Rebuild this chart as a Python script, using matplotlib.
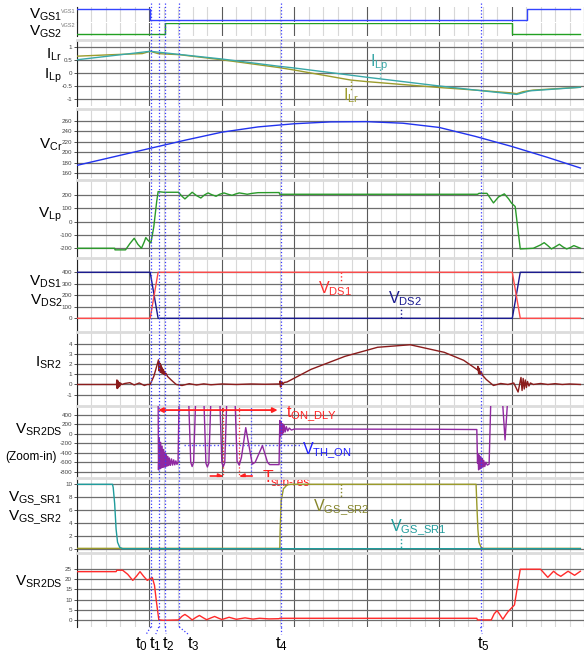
import numpy as np
import matplotlib.pyplot as plt

plt.rcParams['font.family'] = ['Liberation Sans', 'DejaVu Sans']
plt.rcParams['mathtext.fontset'] = 'custom'
plt.rcParams['mathtext.rm'] = 'Liberation Sans'
plt.rcParams['mathtext.it'] = 'Liberation Sans:italic'
plt.rcParams['mathtext.bf'] = 'Liberation Sans:bold'
plt.rcParams['axes.unicode_minus'] = False

# ---- data (time in grid divisions, values in panel units) ----
t_marks = [1.01, 1.12, 1.21, 1.40, 2.80, 5.53]
t_names = ['t$_0$', 't$_1$', 't$_2$', 't$_3$', 't$_4$', 't$_5$']

vgs1 = [(0, 1), (1.01, 1), (1.01, 0), (6.21, 0), (6.21, 1), (6.95, 1)]
vgs2 = [(0, 0), (1.21, 0), (1.21, 1), (6.01, 1), (6.01, 0), (6.95, 0)]

ilp = [(0, 0.52), (1.01, 0.85), (2.0, 0.55), (2.78, 0.27), (3.0, 0.2), (4.0, -0.16),
       (5.0, -0.5), (5.5, -0.66), (6.07, -0.83), (6.25, -0.69), (6.95, -0.55)]
ilr = [(0, 0.66), (0.5, 0.72), (0.9, 0.76), (1.01, 0.85), (1.12, 0.76), (1.25, 0.74),
       (1.41, 0.72), (2.0, 0.52), (2.78, 0.22), (3.0, 0.12), (3.78, -0.27), (4.0, -0.33),
       (5.0, -0.56), (5.5, -0.66), (6.0, -0.77), (6.07, -0.8), (6.16, -0.72), (6.3, -0.66),
       (6.95, -0.55)]

vcr = [(0, 175), (0.5, 191), (1.0, 207), (1.5, 223), (2.0, 238), (2.5, 248), (3.0, 254),
       (3.5, 257.5), (4.0, 258), (4.5, 255), (5.0, 247), (5.5, 230), (6.0, 211),
       (6.5, 190), (6.95, 170)]

vlp = [(0, -200), (0.52, -200), (0.525, -212), (0.67, -212), (0.73, -165), (0.79, -125),
       (0.84, -170), (0.89, -200), (0.93, -150), (0.95, -120), (0.98, -140), (1.0, -150),
       (1.02, -160), (1.06, -40), (1.10, 150), (1.12, 225), (1.2, 220), (1.4, 220),
       (1.45, 190), (1.49, 170), (1.54, 195), (1.59, 220), (1.65, 195), (1.71, 177),
       (1.76, 200), (1.81, 215), (1.86, 202), (1.92, 190), (1.97, 205), (2.03, 215),
       (2.08, 206), (2.14, 197), (2.19, 207), (2.24, 215), (2.3, 210), (2.35, 205),
       (2.42, 212), (2.5, 217), (2.79, 218), (2.80, 205), (5.53, 205), (5.55, 212),
       (5.66, 212), (5.75, 140), (5.82, 185), (5.90, 208), (5.96, 170), (6.0, 138),
       (6.05, 113), (6.12, -205), (6.3, -200), (6.4, -175), (6.45, -158), (6.5, -180),
       (6.55, -205), (6.6, -190), (6.66, -170), (6.71, -190), (6.76, -205), (6.81, -195),
       (6.86, -180), (6.95, -200)]

vds1 = [(0, 0), (1.01, 0), (1.12, 400), (6.01, 400), (6.12, 0), (6.95, 0)]
vds2 = [(0, 400), (1.01, 400), (1.12, 0), (6.01, 0), (6.12, 400), (6.95, 400)]

isr2 = [(0, 0), (0.545, 0), (0.55, 0.45), (0.555, -0.4), (0.56, 0.4), (0.565, -0.35),
        (0.57, 0.3), (0.575, -0.25), (0.58, 0.2), (0.59, -0.15), (0.60, 0.15), (0.62, 0.0),
        (0.66, 0.1), (0.73, 0.18), (0.79, -0.05), (0.86, 0.15), (0.93, -0.1), (0.97, 0.0),
        (1.01, 0.0), (1.06, 0.8), (1.10, 1.8), (1.125, 2.45), (1.13, 1.4), (1.135, 2.25),
        (1.14, 1.3), (1.145, 2.1), (1.15, 1.25), (1.155, 1.95), (1.16, 1.2), (1.165, 1.8),
        (1.17, 1.15), (1.175, 1.65), (1.18, 1.1), (1.19, 1.5), (1.20, 1.0), (1.21, 1.3),
        (1.22, 0.9), (1.23, 1.1), (1.25, 0.8), (1.30, 0.45), (1.37, 0.0), (1.45, -0.1),
        (1.55, 0.08), (1.65, -0.05), (1.75, 0.06), (1.85, -0.03), (2.0, 0.05), (2.2, 0.0),
        (2.4, 0.05), (2.6, 0.02), (2.79, 0.05), (2.80, 0.0), (2.805, 0.35), (2.81, -0.25),
        (2.815, 0.3), (2.82, -0.15), (2.83, 0.25), (2.84, 0.0), (2.86, 0.2), (2.9, 0.25),
        (3.23, 1.5), (3.70, 2.8), (4.15, 3.7), (4.60, 3.95), (5.07, 3.2), (5.34, 2.4),
        (5.53, 1.45), (5.535, 1.8), (5.545, 1.1), (5.555, 1.6), (5.565, 1.0), (5.58, 1.3),
        (5.6, 0.9), (5.65, 0.5), (5.75, -0.1), (5.85, 0.1), (5.95, 0.0), (6.03, 0.15),
        (6.09, -0.75), (6.13, 0.7), (6.145, -0.6), (6.16, 0.6), (6.175, -0.45), (6.19, 0.45),
        (6.205, -0.3), (6.22, 0.3), (6.24, -0.15), (6.26, 0.15), (6.3, 0.0), (6.4, 0.1),
        (6.5, 0.0), (6.6, 0.08), (6.7, 0.0), (6.8, 0.05), (6.95, 0.0)]

vsr_zoom = [(0, 800), (1.12, 800), (1.125, -760), (1.135, -80), (1.145, -740), (1.155, -180),
            (1.165, -720), (1.175, -260), (1.185, -710), (1.195, -330), (1.205, -700),
            (1.215, -390), (1.225, -690), (1.235, -440), (1.245, -680), (1.255, -480),
            (1.265, -670), (1.275, -510), (1.29, -665), (1.305, -530), (1.32, -660),
            (1.335, -550), (1.35, -655), (1.365, -570), (1.38, -645), (1.395, -600),
            (1.41, 800), (1.54, 800), (1.57, -600), (1.59, -690), (1.61, -600), (1.64, 800),
            (1.75, 800), (1.78, -620), (1.80, -700), (1.82, -620), (1.85, 800), (1.97, 800),
            (2.0, -610), (2.02, -690), (2.04, -610), (2.07, 800), (2.18, 800), (2.21, -580),
            (2.24, -660), (2.27, -500), (2.33, 130), (2.38, -300), (2.42, -640), (2.46, -600),
            (2.56, -250), (2.63, -600), (2.66, -650), (2.79, -650), (2.80, 280), (2.81, -60),
            (2.82, 240), (2.83, -20), (2.84, 210), (2.85, 20), (2.86, 180), (2.875, 40),
            (2.89, 150), (2.91, 60), (2.93, 120), (2.96, 80), (3.0, 100), (5.0, 95),
            (5.52, 90), (5.53, -620), (5.535, -420), (5.545, -760), (5.555, -450),
            (5.565, -740), (5.575, -480), (5.585, -720), (5.595, -520), (5.605, -700),
            (5.615, -560), (5.63, -690), (5.645, -600), (5.665, -660), (5.69, -640),
            (5.715, 800), (5.87, 800), (5.91, -130), (5.95, 800), (6.95, 800)]
vth_on = -232
t_on_dly = (1.12, 2.77)
t_sub_res = (2.02, 2.24)

vgs_sr1 = [(0, 10), (0.49, 10), (0.5, 9.5), (0.52, 7), (0.54, 3), (0.56, 1), (0.59, 0.2),
           (0.63, 0), (6.95, 0)]
vgs_sr2 = [(0, 0.05), (2.80, 0.05), (2.805, 3), (2.82, 7.5), (2.85, 9.3), (2.9, 9.9),
           (2.95, 10), (5.51, 10), (5.52, 7), (5.535, 3), (5.55, 1), (5.58, 0.2),
           (5.61, 0.05), (6.95, 0.05)]

vsr2ds = [(0, 23.8), (0.54, 23.8), (0.55, 24.5), (0.63, 24.5), (0.7, 22.5), (0.77, 19.5),
          (0.82, 21.5), (0.87, 23.8), (0.92, 21.5), (0.97, 19.5), (1.04, 20.9), (1.07, 17),
          (1.10, 8), (1.13, 0), (1.2, -0.2), (1.4, 0), (1.45, 1.8), (1.49, 2.7), (1.54, 1.5),
          (1.59, 0), (1.64, 1.2), (1.69, 2.2), (1.74, 1.1), (1.79, 0.1), (1.85, 1.0),
          (1.9, 1.7), (1.95, 0.9), (2.0, 0.2), (2.1, 1.3), (2.2, 0.3), (2.32, 1.0),
          (2.43, 0.4), (2.52, 0.8), (2.65, 0.5), (2.79, 0.6), (2.8, 0.8), (5.52, 0.8),
          (5.53, 0), (5.72, 0), (5.76, 3.0), (5.80, 4.6), (5.84, 2.5), (5.88, 0.3),
          (5.92, 2.5), (5.95, 4.0), (6.04, 7.4), (6.12, 25), (6.4, 25), (6.45, 23),
          (6.5, 21), (6.58, 24), (6.63, 22.5), (6.68, 21.5), (6.78, 24), (6.87, 22),
          (6.95, 24)]

# ---- layout ----
W, H = 584, 661
X0 = 77
XMAX = 6.945

fig = plt.figure(figsize=(W / 100, H / 100), dpi=100)


def panel(top, bottom, ylim, yticks, strip=False):
    ax = fig.add_axes([X0 / W, 1 - bottom / H, (W - X0) / W, (bottom - top) / H])
    ax.set_facecolor('none')
    ax.set_xlim(0, XMAX)
    ax.set_ylim(*ylim)
    ax.set_xticks(range(0, 8))
    ax.set_xticks(np.arange(0, 7, 0.2), minor=True)
    ax.tick_params(axis='x', which='both', length=0, labelbottom=False)
    ax.set_yticks(yticks)
    ax.tick_params(axis='y', length=2.5, width=0.6, color='#333', labelsize=4.5,
                   labelcolor='#444', pad=1)
    ax.grid(True, which='major', axis='x', color='#5a5a5a', lw=0.8)
    ax.grid(True, which='minor', axis='x', color='#d8d8d8', lw=0.8)
    if not strip:
        ax.grid(True, which='major', axis='y', color='#6e6e6e', lw=0.9)
    ax.set_axisbelow(True)
    ax.spines['right'].set_visible(False)
    ax.spines['bottom'].set_visible(False)
    ax.spines['left'].set_color('#222')
    ax.spines['top'].set_color('#dcdcdc' if not strip else 'none')
    ax.spines['top'].set_linewidth(2)
    return ax


def line(ax, data, color, lw=1.0, z=3):
    ax.plot(*zip(*data), color=color, lw=lw, zorder=z)


def ylabel(text, base, size=11, right=62):
    fig.text(right / W, 1 - base / H, text, ha='right', va='baseline', fontsize=size)


# gate drive strips
ax = panel(7, 21.5, (-0.15, 1.15), [], strip=True)
line(ax, vgs1, '#3344ff')
ax.text(-0.003, 0.88, 'VGS1', transform=ax.transAxes, fontsize=4, color='#777',
        ha='right', va='top')
ax = panel(22.5, 36, (-0.15, 1.07), [], strip=True)
line(ax, vgs2, '#22a022')
ax.text(-0.003, 0.95, 'VGS2', transform=ax.transAxes, fontsize=4, color='#777',
        ha='right', va='top')
ylabel(r'V$_{\mathrm{GS1}}$', 18.5)
ylabel(r'V$_{\mathrm{GS2}}$', 35.5)

# resonant / magnetizing current
ax = panel(40, 106, (-1.28, 1.29), [1, 0.5, 0, -0.5, -1])
ax.set_yticklabels(['1', '0.5', '0', '-0.5', '-1'])
line(ax, ilr, '#9c9c2c')
line(ax, ilp, '#3aa8a8')
ax.text(4.05, 0.27, r'I$_{\mathrm{Lp}}$', color='#3aa8a8', fontsize=11.5, va='baseline')
ax.plot([4.19, 4.19], [0.18, -0.17], ls=':', color='#3aa8a8', lw=1)
ax.text(3.67, -1.05, r'I$_{\mathrm{Lr}}$', color='#9c9c2c', fontsize=11.5, va='baseline',
        clip_on=False)
ax.plot([3.78, 3.78], [-0.3, -0.66], ls=':', color='#9c9c2c', lw=1)
ylabel(r'I$_{\mathrm{Lr}}$', 59)
ylabel(r'I$_{\mathrm{Lp}}$', 78.5)

# resonant capacitor voltage
ax = panel(109, 178, (151, 282), [260, 240, 220, 200, 180, 160])
line(ax, vcr, '#2233ee')
ylabel(r'V$_{\mathrm{Cr}}$', 149)

# magnetizing inductor voltage
ax = panel(180, 258, (-273, 312), [200, 100, 0, -100, -200])
line(ax, vlp, '#2a9a2a')
ylabel(r'V$_{\mathrm{Lp}}$', 218)

# primary switch voltages
ax = panel(258, 332, (-119, 524), [400, 300, 200, 100, 0])
line(ax, vds2, '#1a1a90')
line(ax, vds1, '#ff4a4a')
ax.text(3.33, 220, r'V$_{\mathrm{DS1}}$', color='#ff3030', fontsize=11.5, va='baseline')
ax.plot([3.64, 3.64], [400, 320], ls=':', color='#ff3030', lw=1)
ax.text(4.29, 129, r'V$_{\mathrm{DS2}}$', color='#1a1a90', fontsize=11.5, va='baseline')
ax.plot([4.48, 4.48], [0, 95], ls=':', color='#1a1a90', lw=1)
ylabel(r'V$_{\mathrm{DS1}}$', 286)
ylabel(r'V$_{\mathrm{DS2}}$', 304.5)

# SR current
ax = panel(332, 406, (-2.14, 5.22), [4, 3, 2, 1, 0, -1])
line(ax, isr2, '#8b1c1c')
ylabel(r'I$_{\mathrm{SR2}}$', 367)

# SR drain-source voltage (zoom)
ax = panel(406, 478, (-932, 586), [400, 200, 0, -200, -400, -600, -800])
line(ax, vsr_zoom, '#9028a0')
ax.axvline(2.40, color='#5050ff', ls=':', lw=0.9)
for tr in t_sub_res:
    ax.axvline(tr, color='#ff3030', ls=':', lw=0.9)
ax.plot([1.48, 3.10], [vth_on, vth_on], color='#5050ff', ls=':', lw=1)
ax.text(3.10, -416, r'V$_{\mathrm{TH\_ON}}$', color='#2020ff', fontsize=11.5,
        va='baseline')
ax.annotate('', xy=(t_on_dly[0], 500), xytext=(t_on_dly[1], 500),
            arrowprops=dict(arrowstyle='<|-|>', color='#ff2020', lw=1.3,
                            mutation_scale=7, shrinkA=0, shrinkB=0),
            annotation_clip=False)
ax.text(2.88, 361, r't$_{\mathrm{ON\_DLY}}$', color='#ff2020', fontsize=11.5,
        va='baseline', clip_on=False)
ax.annotate('', xy=(t_sub_res[0], -890), xytext=(t_sub_res[0] - 0.18, -890),
            arrowprops=dict(arrowstyle='-|>', color='#ff2020', lw=1.2,
                            mutation_scale=7, shrinkA=0, shrinkB=0),
            annotation_clip=False)
ax.annotate('', xy=(t_sub_res[1], -890), xytext=(t_sub_res[1] + 0.18, -890),
            arrowprops=dict(arrowstyle='-|>', color='#ff2020', lw=1.2,
                            mutation_scale=7, shrinkA=0, shrinkB=0),
            annotation_clip=False)
ax.text(2.56, -1017, 'T', color='#ff2020', fontsize=12.5, va='baseline', clip_on=False,
        zorder=10)
ax.text(2.68, -1110, 'sub-res', color='#ff2020', fontsize=8.5, va='baseline',
        clip_on=False, zorder=10)
ylabel(r'V$_{\mathrm{SR2DS}}$', 434)
ylabel('(Zoom-in)', 460, size=8.5, right=57)

# SR gate voltages
ax = panel(478, 553, (-0.67, 10.98), [10, 8, 6, 4, 2, 0])
line(ax, vgs_sr2, '#9a9a2a')
line(ax, vgs_sr1, '#1f9c9c', z=4)
ax.text(3.26, 6.0, r'V$_{\mathrm{GS\_SR2}}$', color='#85852a', fontsize=11.5,
        va='baseline')
ax.plot([3.64, 3.64], [10, 7.9], ls=':', color='#85852a', lw=1)
ax.text(4.32, 2.9, r'V$_{\mathrm{GS\_SR1}}$', color='#1f9c9c', fontsize=11.5,
        va='baseline')
ax.plot([4.48, 4.48], [2.1, 0], ls=':', color='#1f9c9c', lw=1)
ylabel(r'V$_{\mathrm{GS\_SR1}}$', 501.5)
ylabel(r'V$_{\mathrm{GS\_SR2}}$', 521)

# SR drain-source voltage (full)
ax = panel(553, 627, (-3.5, 33), [25, 20, 15, 10, 5, 0])
line(ax, vsr2ds, '#ff2a2a')
ylabel(r'V$_{\mathrm{SR2DS}}$', 586)

# time markers across all panels
ov = fig.add_axes([X0 / W, 0, (W - X0) / W, 1])
ov.set_xlim(0, XMAX)
ov.set_ylim(H, 0)
ov.axis('off')
label_pos = [0.88, 1.07, 1.25, 1.59, 2.80, 5.56]
lead_end = [0.95, 1.08, 1.22, 1.52, 2.80, 5.55]
for tm, tl, le, name in zip(t_marks, label_pos, lead_end, t_names):
    ov.plot([tm, tm], [3, 627], ls=':', color='#3a3aff', lw=0.9)
    ov.plot([tm, le], [627, 634], ls=':', color='#3a3aff', lw=0.9)
    ov.text(tl, 648, name, ha='center', va='baseline', fontsize=12)

fig.savefig('out.png', dpi=100)
